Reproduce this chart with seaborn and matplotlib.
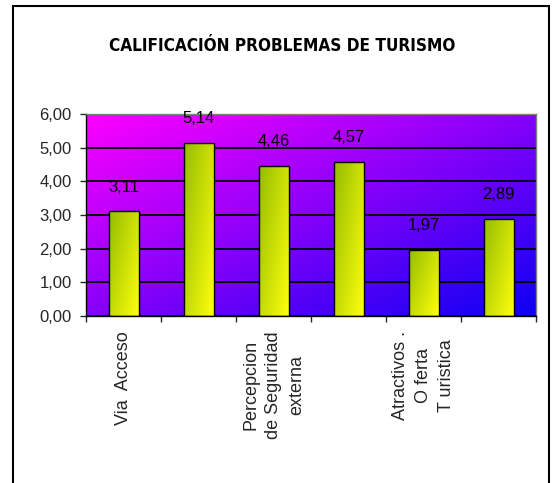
import numpy as np
import pandas as pd
import matplotlib
matplotlib.use("Agg")
import matplotlib.pyplot as plt
import seaborn as sns
from matplotlib.patches import Rectangle

# datos del grafico
categorias = ["Via Acceso", "cat2", "Percepcion de Seguridad externa", "cat4",
              "Atractivos . Oferta Turistica", "cat6"]
valores = [3.11, 5.14, 4.46, 4.57, 1.97, 2.89]
etiquetas_x = ["Via  Acceso", "", "Percepcion\nde Seguridad\nexterna", "",
               "Atractivos .\nO ferta\nT uristica", ""]
etiquetas_y = ["0,00", "1,00", "2,00", "3,00", "4,00", "5,00", "6,00"]
titulo = "CALIFICACIÓN PROBLEMAS DE TURISMO"

sns.set_style("white")
plt.rcParams['font.family'] = ['Liberation Sans', 'DejaVu Sans']

fig = plt.figure(figsize=(5.54, 4.83), dpi=100)
ax = fig.add_axes([86 / 554, 1 - 316 / 483, 450 / 554, 202 / 483])

df = pd.DataFrame({"cat": categorias, "val": valores})
sns.barplot(data=df, x="cat", y="val", order=categorias, width=0.4,
            color="yellow", edgecolor="black", linewidth=1, zorder=3, ax=ax)

ax.set_xlim(-0.5, len(categorias) - 0.5)
ax.set_ylim(0, 6)

# fondo degradado magenta (arriba-izq) -> azul (abajo-der)
n = 200
gx, gy = np.meshgrid(np.linspace(0, 1, n), np.linspace(0, 1, n))
t = (gx + gy) / 2
mag = np.array([1.0, 0.0, 1.0])
azul = np.array([0.05, 0.0, 0.95])
fondo = mag[None, None, :] * (1 - t[..., None]) + azul[None, None, :] * t[..., None]
ax.imshow(fondo, extent=(0, 1, 0, 1), transform=ax.transAxes, aspect="auto",
          zorder=0.1, interpolation="bilinear")

# degradado de las barras (verde arriba-izq -> amarillo abajo-der)
verde = np.array([0.58, 0.74, 0.0])
amarillo = np.array([1.0, 1.0, 0.05])
bx, by = np.meshgrid(np.linspace(0, 1, 50), np.linspace(0, 1, 100))
tb = np.clip(0.55 * bx + 0.45 * by, 0, 1)
grad_barra = verde[None, None, :] * (1 - tb[..., None]) + amarillo[None, None, :] * tb[..., None]
for p in ax.patches:
    bb = p.get_bbox()
    im = ax.imshow(grad_barra, extent=(bb.x0, bb.x1, bb.y0, bb.y1), aspect="auto",
                   zorder=2.5, interpolation="bilinear")
    im.set_clip_path(p)
    p.set_facecolor("none")

ax.set_xlim(-0.5, len(categorias) - 0.5)
ax.set_ylim(0, 6)

# etiquetas de valores
ax.bar_label(ax.containers[0], labels=[f"{v:.2f}".replace(".", ",") for v in valores],
             padding=12, fontsize=12, color="black")

# rejilla
ax.set_axisbelow(True)
ax.yaxis.grid(True, color="black", linewidth=1.3)
ax.xaxis.grid(False)

ax.set_yticks(range(7))
ax.set_yticklabels(etiquetas_y, fontsize=12)
ax.tick_params(axis="y", direction="out", length=4.3, width=1, pad=6, left=True)

ax.set_xticks(range(len(categorias)))
ax.set_xticklabels(etiquetas_x, rotation=90, fontsize=13, linespacing=1.45,
                   va="top", ha="center", multialignment="center")
ax.tick_params(axis="x", which="major", length=0, pad=11)
ax.set_xticks(np.arange(-0.5, len(categorias)), minor=True)
ax.tick_params(axis="x", which="minor", direction="out", length=4.5, width=1, bottom=True)

ax.set_xlabel("")
ax.set_ylabel("")

for s in ["left", "bottom"]:
    ax.spines[s].set_color("black")
    ax.spines[s].set_linewidth(1)
for s in ["top", "right"]:
    ax.spines[s].set_color("#808080")
    ax.spines[s].set_linewidth(1)

fig.text(282 / 554, 1 - 46 / 483, titulo, ha="center", va="center", fontsize=12.3,
         fontweight="bold", family="DejaVu Sans", fontstretch="condensed", color="black")

# marco del grafico
fig.patches.append(Rectangle((12.7 / 554, -0.05), (549 - 12.7) / 554, (483 - 5.5) / 483 + 0.05,
                             transform=fig.transFigure, fill=False, edgecolor="black",
                             linewidth=1.5))

fig.savefig("out.png", dpi=100)
